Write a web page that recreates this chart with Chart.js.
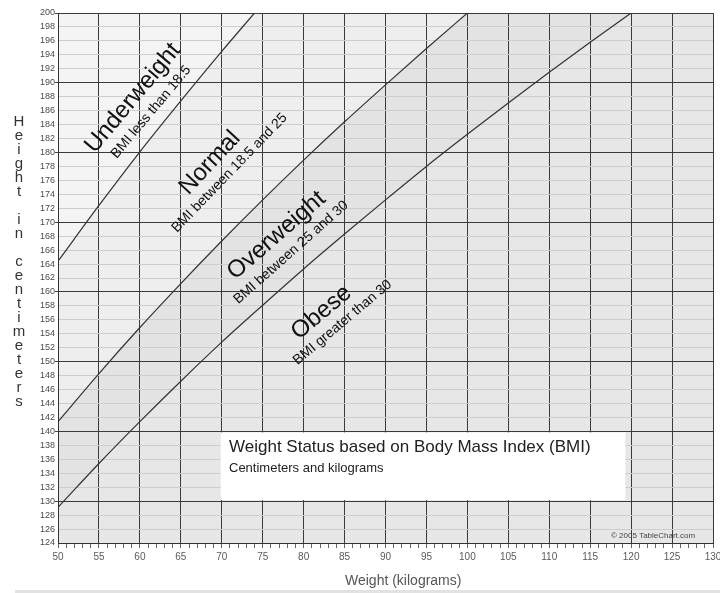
<!DOCTYPE html>
<html><head><meta charset="utf-8">
<script src="https://cdn.jsdelivr.net/npm/chart.js@4.4.0/dist/chart.umd.min.js"></script>
<style>
html,body{margin:0;padding:0;background:#fff;}
#c{display:block;background:#e7e7e7;}
</style></head><body>
<canvas id="c" width="720" height="593"></canvas>
<script>
// ---- data ----
const weightsBMI185 = [50, 55, 60, 65, 70, 74];
const heightsBMI185 = [164.4, 172.4, 180.1, 187.4, 194.5, 200];
const weightsBMI25 = [50, 55, 60, 65, 70, 75, 80, 85, 90, 95, 100];
const heightsBMI25 = [141.4, 148.3, 154.9, 161.2, 167.3, 173.2, 178.9, 184.4, 189.7, 194.9, 200];
const weightsBMI30 = [50, 55, 60, 65, 70, 75, 80, 85, 90, 95, 100, 105, 110, 115, 120];
const heightsBMI30 = [129.1, 135.4, 141.4, 147.2, 152.8, 158.1, 163.3, 168.3, 173.2, 178.0, 182.6, 187.1, 191.5, 195.8, 200];
const xTickLabels = [50, 55, 60, 65, 70, 75, 80, 85, 90, 95, 100, 105, 110, 115, 120, 125, 130];
const bandNames = ['Underweight', 'Normal', 'Overweight', 'Obese'];
const bandNotes = ['BMI less than 18.5', 'BMI between 18.5 and 25', 'BMI between 25 and 30', 'BMI greater than 30'];
const chartTitle = 'Weight Status based on Body Mass Index (BMI)';
const chartSubtitle = 'Centimeters and kilograms';
const xTitle = 'Weight (kilograms)';
const yTitle = 'Height in centimeters';
const credit = '\u00A9 2005 TableChart.com';

// ---- layout / style (not data) ----
const FONT = "'Liberation Sans', Arial, sans-serif";
const bandLayout = [
  {t: [59.16, 187.8, -50], s: [61.36, 185.8, -50]},
  {t: [68.56, 178.5, -47], s: [70.95, 177.06, -46]},
  {t: [76.69, 168.1, -41], s: [78.46, 165.66, -41.5]},
  {t: [82.18, 157.05, -40], s: [84.75, 155.62, -40]}
];

function pts(xs, ys) { return xs.map((x, i) => ({x: x, y: ys[i]})); }

const overlay = {
  id: 'overlay',
  beforeDraw(chart) {
    const {ctx, chartArea: a, width, height} = chart;
    ctx.save();
    ctx.fillStyle = '#ffffff';
    ctx.fillRect(0, 0, width, a.top);
    ctx.fillRect(0, a.bottom, width, height - a.bottom);
    ctx.fillRect(0, a.top, a.left, a.bottom - a.top);
    ctx.fillRect(a.right, a.top, width - a.right, a.bottom - a.top);
    ctx.fillStyle = '#e2e2e2';
    ctx.fillRect(15, 590, width - 15, 3);
    ctx.restore();
  },
  beforeDatasetsDraw(chart) {
    const {ctx, scales: {x, y}} = chart;
    const l = x.getPixelForValue(70) - 1, r = x.getPixelForValue(119.3);
    const t = y.getPixelForValue(140) + 1, b = y.getPixelForValue(130) - 1;
    ctx.save();
    ctx.fillStyle = '#ffffff';
    ctx.fillRect(l, t, r - l, b - t);
    ctx.restore();
  },
  afterDatasetsDraw(chart) {
    const {ctx, scales: {x, y}} = chart;
    ctx.save();
    ctx.fillStyle = '#111111';
    ctx.textAlign = 'center';
    ctx.textBaseline = 'middle';
    bandNames.forEach((name, i) => {
      const L = bandLayout[i];
      ctx.save();
      ctx.translate(x.getPixelForValue(L.t[0]), y.getPixelForValue(L.t[1]));
      ctx.rotate(L.t[2] * Math.PI / 180);
      ctx.font = '24px ' + FONT;
      ctx.fillText(name, 0, 0);
      ctx.restore();
      ctx.save();
      ctx.translate(x.getPixelForValue(L.s[0]), y.getPixelForValue(L.s[1]));
      ctx.rotate(L.s[2] * Math.PI / 180);
      ctx.font = '14px ' + FONT;
      ctx.fillText(bandNotes[i], 0, 0);
      ctx.restore();
    });
    // title box text
    ctx.textAlign = 'left';
    ctx.textBaseline = 'alphabetic';
    ctx.fillStyle = '#222';
    ctx.font = '17px ' + FONT;
    ctx.fillText(chartTitle, 229, 452);
    ctx.font = '13px ' + FONT;
    ctx.fillText(chartSubtitle, 229, 472);
    // credit
    ctx.fillStyle = '#444';
    ctx.font = '8px ' + FONT;
    ctx.fillText(credit, 611, 538);
    // x title
    ctx.fillStyle = '#555';
    ctx.font = '14px ' + FONT;
    ctx.fillText(xTitle, 345, 585);
    // y title, stacked letters
    ctx.fillStyle = '#333';
    ctx.font = '15px ' + FONT;
    ctx.textAlign = 'center';
    ctx.textBaseline = 'middle';
    yTitle.split('').forEach((ch, i) => {
      if (ch !== ' ') ctx.fillText(ch, 19, 122 + i * 14);
    });
    ctx.restore();
  }
};

const lineStyle = {borderColor: '#333', borderWidth: 1.2, pointRadius: 0, cubicInterpolationMode: 'monotone'};

new Chart(document.getElementById('c'), {
  type: 'line',
  data: {
    datasets: [
      Object.assign({label: 'BMI 18.5', data: pts(weightsBMI185, heightsBMI185), fill: 'end', backgroundColor: '#f4f4f4'}, lineStyle),
      Object.assign({label: 'BMI 25', data: pts(weightsBMI25, heightsBMI25), fill: 'end', backgroundColor: '#eeeeee'}, lineStyle),
      Object.assign({label: 'BMI 30', data: pts(weightsBMI30, heightsBMI30), fill: 'end', backgroundColor: '#e3e3e3'}, lineStyle)
    ]
  },
  options: {
    responsive: false,
    animation: false,
    events: [],
    layout: {padding: {top: 13, left: 0, right: 7, bottom: 0}},
    plugins: {
      legend: {display: false},
      tooltip: {enabled: false},
      filler: {drawTime: 'beforeDraw'}
    },
    scales: {
      x: {
        type: 'linear', min: 50, max: 130,
        afterFit(s) { s.height = 50; s.paddingLeft = 0; s.paddingRight = 0; },
        border: {color: '#333', width: 1},
        grid: {
          color: c => (c.tick && c.tick.value % 5 === 0) ? '#3a3a3a' : 'rgba(0,0,0,0)',
          tickColor: '#666',
          tickLength: 5,
          lineWidth: 1
        },
        ticks: {
          stepSize: 1, autoSkip: false, maxRotation: 0, padding: 3,
          color: '#5a5a5a', font: {family: FONT, size: 10},
          callback: v => xTickLabels.includes(v) ? String(v) : ''
        }
      },
      y: {
        type: 'linear', min: 124, max: 200,
        afterFit(s) { s.width = 58; s.paddingTop = 0; s.paddingBottom = 0; },
        border: {color: '#333', width: 1},
        grid: {
          color: c => (c.tick && c.tick.value % 10 === 0) ? '#3a3a3a' : '#cdcdcd',
          tickColor: c => (c.tick && c.tick.value % 10 === 0) ? '#444' : 'rgba(0,0,0,0)',
          tickLength: 3,
          lineWidth: 1
        },
        ticks: {
          stepSize: 2, autoSkip: false, padding: 0,
          color: '#4a4a4a', font: {family: FONT, size: 9}
        }
      }
    }
  },
  plugins: [overlay]
});
</script>
</body></html>
